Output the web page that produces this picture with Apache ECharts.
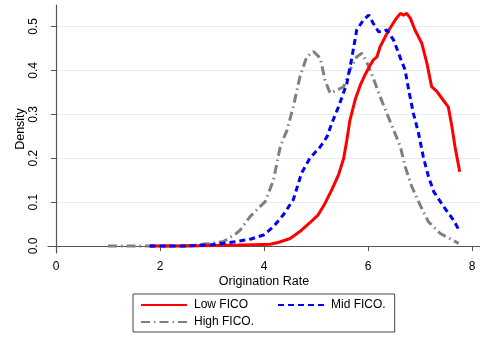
<!DOCTYPE html>
<html>
<head>
<meta charset="utf-8">
<script src="https://cdn.jsdelivr.net/npm/echarts@6/dist/echarts.min.js"></script>
<style>
  html, body { margin: 0; padding: 0; background: #fff; }
  #chart { width: 480px; height: 337px; }
</style>
</head>
<body>
<div id="chart"></div>
<script>
// Kernel density estimates of origination rate by FICO group
const lowX = [1.8, 2.5, 3.0, 3.5, 3.8, 4.12, 4.3, 4.5, 4.72, 4.88, 5.04, 5.17, 5.30, 5.43, 5.53, 5.59, 5.65, 5.75, 5.85, 5.94, 6.04, 6.10, 6.17, 6.23, 6.33, 6.42, 6.52, 6.62, 6.68, 6.74, 6.81, 6.90, 7.03, 7.13, 7.22, 7.32, 7.42, 7.54, 7.61, 7.67, 7.76];
const lowY = [0.0, 0.0, 0.001, 0.002, 0.003, 0.004, 0.009, 0.017, 0.036, 0.053, 0.071, 0.097, 0.128, 0.162, 0.200, 0.241, 0.287, 0.333, 0.367, 0.390, 0.412, 0.424, 0.431, 0.454, 0.477, 0.496, 0.515, 0.530, 0.526, 0.530, 0.519, 0.492, 0.462, 0.416, 0.363, 0.352, 0.336, 0.317, 0.272, 0.226, 0.169];

const midX = [1.8, 2.5, 3.0, 3.47, 3.75, 3.99, 4.18, 4.37, 4.56, 4.72, 4.88, 5.08, 5.21, 5.30, 5.43, 5.59, 5.69, 5.78, 5.91, 6.01, 6.10, 6.20, 6.26, 6.36, 6.49, 6.62, 6.71, 6.78, 6.87, 6.97, 7.06, 7.16, 7.26, 7.45, 7.64, 7.76];
const midY = [0.0, 0.0, 0.003, 0.010, 0.016, 0.025, 0.044, 0.071, 0.105, 0.166, 0.200, 0.226, 0.249, 0.279, 0.317, 0.370, 0.431, 0.492, 0.515, 0.526, 0.507, 0.488, 0.488, 0.492, 0.469, 0.428, 0.401, 0.355, 0.302, 0.256, 0.203, 0.158, 0.124, 0.090, 0.059, 0.033];

const highX = [1.0, 2.0, 2.6, 2.96, 3.22, 3.47, 3.54, 3.73, 4.02, 4.18, 4.31, 4.44, 4.56, 4.69, 4.82, 4.95, 5.08, 5.17, 5.27, 5.40, 5.53, 5.65, 5.78, 5.88, 5.97, 6.10, 6.23, 6.36, 6.49, 6.62, 6.71, 6.84, 7.00, 7.16, 7.38, 7.74];
const highY = [0.0, 0.0, 0.001, 0.006, 0.010, 0.029, 0.036, 0.067, 0.101, 0.150, 0.226, 0.264, 0.317, 0.386, 0.431, 0.443, 0.428, 0.378, 0.348, 0.355, 0.363, 0.401, 0.431, 0.439, 0.420, 0.382, 0.340, 0.302, 0.264, 0.226, 0.181, 0.135, 0.093, 0.055, 0.029, 0.006];

const xTicks = [0, 2, 4, 6, 8];
const yTicks = [0, 0.1, 0.2, 0.3, 0.4, 0.5];
const seriesNames = ['Low FICO', 'Mid FICO.', 'High FICO.'];

const pairs = (xs, ys) => xs.map((x, i) => [x, ys[i]]);

const font = 'Liberation Sans, Arial, Helvetica, sans-serif';
const axisColor = '#555';

const legendCommon = {
  itemWidth: 46,
  itemHeight: 12,
  itemStyle: { opacity: 0, borderWidth: 0 },
  borderRadius: 0,
  textStyle: { color: '#000', fontSize: 12, fontFamily: font, padding: [0, 0, 0, 2] }
};

const chart = echarts.init(document.getElementById('chart'), null, { renderer: 'canvas' });

chart.setOption({
  animation: false,
  backgroundColor: '#fff',
  textStyle: { fontFamily: font },
  grid: { left: 48, right: 0, top: 5, bottom: 84, containLabel: false },
  xAxis: {
    type: 'value',
    min: -0.154,
    max: 8.15,
    name: 'Origination Rate',
    nameLocation: 'middle',
    nameGap: 22,
    nameMoveOverlap: false,
    nameTextStyle: { color: '#000', fontSize: 12.5, fontFamily: font },
    axisLine: { show: true, lineStyle: { color: axisColor, width: 1.2 } },
    axisTick: { show: true, length: 5, customValues: xTicks, lineStyle: { color: axisColor } },
    axisLabel: { customValues: xTicks, color: '#000', fontSize: 12, margin: 8, fontFamily: font },
    splitLine: { show: false }
  },
  yAxis: {
    type: 'value',
    min: -0.016,
    max: 0.549,
    name: 'Density',
    nameLocation: 'middle',
    nameGap: 21,
    nameMoveOverlap: false,
    nameRotate: 90,
    nameTextStyle: { color: '#000', fontSize: 12.5, fontFamily: font },
    axisLine: { show: true, lineStyle: { color: axisColor, width: 1.2 } },
    axisTick: { show: true, length: 5, customValues: yTicks, lineStyle: { color: axisColor } },
    axisLabel: {
      customValues: yTicks,
      rotate: 90,
      color: '#000',
      fontSize: 12,
      margin: 8,
      fontFamily: font,
      formatter: v => v.toFixed(1)
    },
    splitLine: { show: true, lineStyle: { color: '#e6eff0', width: 1 } }
  },
  legend: [
    // first row, with the frame that encloses both rows
    Object.assign({}, legendCommon, {
      data: [seriesNames[0], seriesNames[1]],
      left: 133,
      top: 294,
      padding: [5, 9, 21, 7],
      itemGap: 29,
      borderColor: '#444',
      borderWidth: 1
    }),
    // second row
    Object.assign({}, legendCommon, {
      data: [seriesNames[2]],
      left: 140,
      top: 316,
      padding: 0,
      borderWidth: 0
    })
  ],
  series: [
    {
      name: seriesNames[0], type: 'line', symbol: 'none', smooth: false,
      data: pairs(lowX, lowY),
      lineStyle: { color: '#ff0000', width: 3 },
      itemStyle: { color: '#ff0000' },
      z: 3
    },
    {
      name: seriesNames[1], type: 'line', symbol: 'none', smooth: false,
      data: pairs(midX, midY),
      lineStyle: { color: '#0000ff', width: 3, type: [6, 4] },
      itemStyle: { color: '#0000ff' },
      z: 4
    },
    {
      name: seriesNames[2], type: 'line', symbol: 'none', smooth: false,
      data: pairs(highX, highY),
      lineStyle: { color: '#808080', width: 3, type: [9, 4, 1.5, 4] },
      itemStyle: { color: '#808080' },
      z: 2
    }
  ]
});
</script>
</body>
</html>
